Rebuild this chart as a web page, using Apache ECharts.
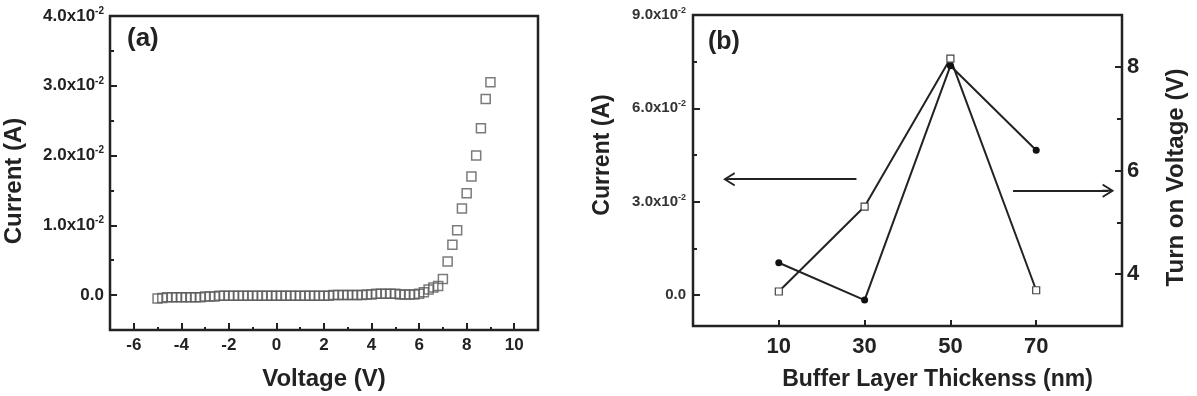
<!DOCTYPE html>
<html>
<head>
<meta charset="utf-8">
<script src="https://cdn.jsdelivr.net/npm/echarts@6/dist/echarts.min.js"></script>
<style>
html, body { margin: 0; padding: 0; background: #fff; }
#chart { width: 1197px; height: 396px; }
</style>
</head>
<body>
<div id="chart"></div>
<script>
// (a) I-V curve
const voltageA = [
  -5.0, -4.8, -4.6, -4.4, -4.2, -4.0, -3.8, -3.6, -3.4, -3.2,
  -3.0, -2.8, -2.6, -2.4, -2.2, -2.0, -1.8, -1.6, -1.4, -1.2,
  -1.0, -0.8, -0.6, -0.4, -0.2, 0.0, 0.2, 0.4, 0.6, 0.8,
  1.0, 1.2, 1.4, 1.6, 1.8, 2.0, 2.2, 2.4, 2.6, 2.8,
  3.0, 3.2, 3.4, 3.6, 3.8, 4.0, 4.2, 4.4, 4.6, 4.8,
  5.0, 5.2, 5.4, 5.6, 5.8, 6.0, 6.2, 6.4, 6.6, 6.8,
  7.0, 7.2, 7.4, 7.6, 7.8, 8.0, 8.2, 8.4, 8.6, 8.8,
  9.0
];
const currentA = [
  -0.0005, -0.0004, -0.0003, -0.0003, -0.0003, -0.0003, -0.0003, -0.0003, -0.0003, -0.0003,
  -0.0002, -0.0002, -0.0002, -0.0001, -0.0001, -0.0001, -0.0001, -0.0001, -0.0001, -0.0001,
  -0.0001, -0.0001, -0.0001, -0.0001, -0.0001, -0.0001, -0.0001, -0.0001, -0.0001, -0.0001,
  -0.0001, -0.0001, -0.0001, -0.0001, -0.0001, -0.0001, -0.0001, 0.0000, 0.0000, 0.0000,
  0.0000, 0.0000, 0.0000, 0.0000, 0.0001, 0.0001, 0.0002, 0.0002, 0.0002, 0.0002,
  0.0002, 0.0001, 0.0001, 0.0001, 0.0001, 0.0002, 0.0004, 0.0008, 0.0011, 0.0013,
  0.0023, 0.0048, 0.0072, 0.0093, 0.0124, 0.0146, 0.0170, 0.0200, 0.0239, 0.0281,
  0.0305
];
const xTicksA = [-6, -4, -2, 0, 2, 4, 6, 8, 10];
const xMinorA = [-5, -3, -1, 1, 3, 5, 7, 9];
const yTicksA = [0, 0.01, 0.02, 0.03, 0.04];
const yMinorA = [0.005, 0.015, 0.025, 0.035];

// (b) buffer layer thickness
const thicknessB = [10, 30, 50, 70];
const currentB = [0.0011, 0.0284, 0.0760, 0.0015];
const turnOnB = [4.22, 3.50, 8.02, 6.39];
const xTicksB = [10, 30, 50, 70];
const yTicksB = [0, 0.03, 0.06, 0.09];
const yMinorB = [0.015, 0.045, 0.075];
const rTicksB = [4, 6, 8];
const rMinorB = [5, 7];
// arrows pointing to the axes (data coords)
const arrowLeft = [[28.1, 0.0372], [-1.6, 0.0372]];
const arrowRight = [[64.6, 5.61], [86.8, 5.61]];

const FONT = 'Liberation Sans';
const INK = '#222';
const ARROW = 'path://M0,12 L7,0 L14,12 L12.3,12.8 L7,3.6 L1.7,12.8 Z M6.1,1.5 L7.9,1.5 L7.9,12.8 L6.1,12.8 Z';

function sciLabel(v) {
  if (v === 0) return '{m|0.0}';
  return '{m|' + (v * 100).toFixed(1) + 'x10}{s|-2}';
}

function tickAxis(gridIndex, min, max, values, len, position) {
  return {
    gridIndex: gridIndex, type: 'value', min: min, max: max, position: position,
    axisLine: { show: false, onZero: false },
    axisTick: { inside: true, length: len, customValues: values, lineStyle: { color: INK, width: 2 } },
    axisLabel: { show: false },
    splitLine: { show: false }
  };
}

const nameStyle = { fontFamily: FONT, fontWeight: 'bold', color: INK };

const chart = echarts.init(document.getElementById('chart'));
chart.setOption({
  animation: false,
  backgroundColor: '#fff',
  title: [
    { text: '(a)', left: 127, top: 26, padding: 0, textStyle: { fontSize: 26, fontWeight: 'bold', fontFamily: FONT, color: INK } },
    { text: '(b)', left: 708, top: 30, padding: 0, textStyle: { fontSize: 25, fontWeight: 'bold', fontFamily: FONT, color: INK } }
  ],
  grid: [
    { left: 110, top: 16, width: 428, height: 315, show: true, borderColor: INK, borderWidth: 2.5 },
    { left: 693, top: 15, width: 429, height: 317, show: true, borderColor: INK, borderWidth: 2.5 }
  ],
  xAxis: [
    Object.assign(tickAxis(0, -7, 11, xTicksA, 7, 'bottom'), {
      axisLabel: { customValues: xTicksA, fontSize: 17, fontWeight: 'bold', fontFamily: FONT, color: INK, margin: 7 },
      name: 'Voltage (V)', nameLocation: 'middle', nameGap: 37,
      nameTextStyle: Object.assign({ fontSize: 24 }, nameStyle)
    }),
    tickAxis(0, -7, 11, xMinorA, 3, 'bottom'),
    Object.assign(tickAxis(1, -10, 90, xTicksB, 6, 'bottom'), {
      axisLabel: { customValues: xTicksB, fontSize: 22, fontWeight: 'bold', fontFamily: FONT, color: INK, margin: 10 },
      name: 'Buffer Layer Thickenss (nm)', nameLocation: 'middle', nameGap: 42,
      nameTextStyle: Object.assign({ fontSize: 23, padding: [0, 0, 0, 60] }, nameStyle)
    })
  ],
  yAxis: [
    Object.assign(tickAxis(0, -0.005, 0.04, yTicksA, 7, 'left'), {
      axisLabel: {
        customValues: yTicksA, formatter: sciLabel, margin: 6,
        rich: {
          m: { fontSize: 17, fontWeight: 'bold', fontFamily: FONT, color: INK, lineHeight: 20 },
          s: { fontSize: 10, fontWeight: 'bold', fontFamily: FONT, color: INK, lineHeight: 10, verticalAlign: 'top' }
        }
      },
      name: 'Current (A)', nameLocation: 'middle', nameRotate: 90, nameGap: 84,
      nameTextStyle: Object.assign({ fontSize: 24, padding: [0, 16, 0, 0] }, nameStyle)
    }),
    tickAxis(0, -0.005, 0.04, yMinorA, 4, 'left'),
    Object.assign(tickAxis(1, -0.01, 0.09, yTicksB, 7, 'left'), {
      axisLabel: {
        customValues: yTicksB, formatter: sciLabel, margin: 7,
        rich: {
          m: { fontSize: 15, fontWeight: 'bold', fontFamily: FONT, color: '#333', lineHeight: 18 },
          s: { fontSize: 9, fontWeight: 'bold', fontFamily: FONT, color: '#333', lineHeight: 9, verticalAlign: 'top' }
        }
      },
      name: 'Current (A)', nameLocation: 'middle', nameRotate: 90, nameGap: 79,
      nameTextStyle: Object.assign({ fontSize: 23, padding: [0, 0, 0, 31] }, nameStyle)
    }),
    tickAxis(1, -0.01, 0.09, yMinorB, 4, 'left'),
    Object.assign(tickAxis(1, 3, 9, rTicksB, 7, 'right'), {
      axisLabel: { customValues: rTicksB, fontSize: 22, fontWeight: 'bold', fontFamily: FONT, color: INK, margin: 5 },
      name: 'Turn on Voltage (V)', nameLocation: 'middle', nameRotate: 90, nameGap: 42,
      nameTextStyle: Object.assign({ fontSize: 24, padding: [0, 14, 0, 0] }, nameStyle)
    }),
    tickAxis(1, 3, 9, rMinorB, 5, 'right')
  ],
  series: [
    {
      type: 'scatter', xAxisIndex: 0, yAxisIndex: 0,
      data: voltageA.map((v, i) => [v, currentA[i]]),
      symbol: 'rect', symbolSize: 9,
      itemStyle: { color: 'rgba(0,0,0,0)', borderColor: '#5a5a5a', borderWidth: 1.5 }
    },
    {
      type: 'line', xAxisIndex: 2, yAxisIndex: 4,
      data: thicknessB.map((t, i) => [t, turnOnB[i]]),
      symbol: 'circle', symbolSize: 7,
      itemStyle: { color: '#111' },
      lineStyle: { color: INK, width: 2 },
      markLine: {
        silent: true, symbol: ['none', ARROW], symbolSize: [14, 12],
        label: { show: false },
        itemStyle: { color: INK },
        lineStyle: { color: INK, width: 2, type: 'solid' },
        data: [[{ coord: arrowRight[0] }, { coord: arrowRight[1] }]]
      }
    },
    {
      type: 'line', xAxisIndex: 2, yAxisIndex: 2,
      data: thicknessB.map((t, i) => [t, currentB[i]]),
      symbol: 'rect', symbolSize: 7,
      itemStyle: { color: '#fff', borderColor: '#444', borderWidth: 1.2 },
      lineStyle: { color: INK, width: 2 },
      markLine: {
        silent: true, symbol: ['none', ARROW], symbolSize: [14, 12],
        label: { show: false },
        itemStyle: { color: INK },
        lineStyle: { color: INK, width: 2, type: 'solid' },
        data: [[{ coord: arrowLeft[0] }, { coord: arrowLeft[1] }]]
      }
    }
  ]
});
</script>
</body>
</html>
